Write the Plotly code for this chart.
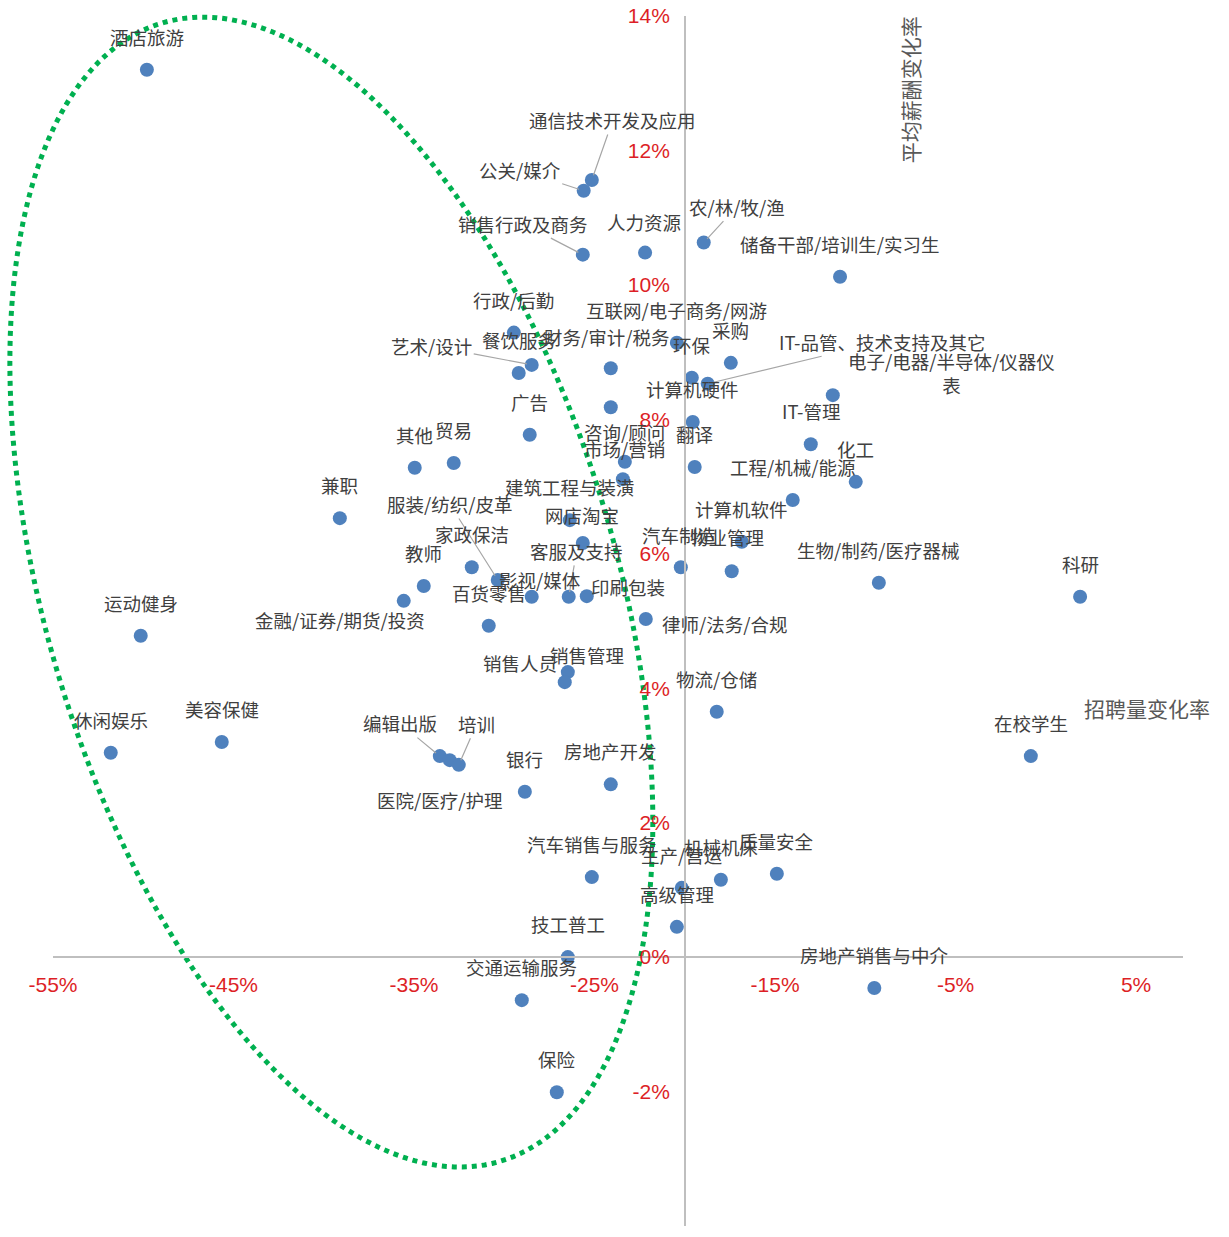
import numpy as np
import plotly.graph_objects as go

# ---------------- data (percent units) ----------------
job_names = [
    "酒店旅游", "通信技术开发及应用", "公关/媒介", "销售行政及商务", "人力资源",
    "农/林/牧/渔", "储备干部/培训生/实习生", "行政/后勤", "艺术/设计", "餐饮服务",
    "财务/审计/税务", "互联网/电子商务/网游", "环保", "采购", "IT-品管、技术支持及其它",
    "电子/电器/半导体/仪器仪表", "计算机硬件", "IT-管理", "广告", "咨询/顾问",
    "市场/营销", "翻译", "化工", "其他", "贸易",
    "兼职", "建筑工程与装潢", "工程/机械/能源", "服装/纺织/皮革", "网店淘宝",
    "计算机软件", "家政保洁", "教师", "客服及支持", "汽车制造",
    "物业管理", "生物/制药/医疗器械", "科研", "影视/媒体", "印刷包装",
    "百货零售", "金融/证券/期货/投资", "运动健身", "律师/法务/合规", "销售管理",
    "销售人员", "物流/仓储", "休闲娱乐", "美容保健", "编辑出版",
    "医院/医疗/护理", "培训", "在校学生", "银行", "房地产开发",
    "汽车销售与服务", "生产/营运", "机械机床", "质量安全", "高级管理",
    "技工普工", "交通运输服务", "房地产销售与中介", "保险", "",
]

recruit_change = [  # 招聘量变化率 (%)
    -49.8, -25.15, -25.6, -25.65, -22.2,
    -18.95, -11.4, -29.47, -28.48, -29.2,
    -24.1, -20.44, -19.61, -17.45, -18.73,
    -11.8, -19.56, -13.02, -28.59, -23.32,
    -23.43, -19.45, -10.53, -34.96, -32.8,
    -39.11, -26.37, -14.02, -30.36, -25.65,
    -16.84, -31.8, -34.46, -26.43, -20.22,
    -17.4, -9.25, 1.9, -28.48, -25.43,
    -30.86, -35.57, -50.14, -22.16, -26.48,
    -26.65, -18.23, -51.8, -45.65, -33.57,
    -33.02, -32.52, -0.83, -28.86, -24.1,
    -25.15, -20.17, -18.0, -14.9, -20.44,
    -26.48, -29.03, -9.5, -27.09, -24.1,
]

salary_change = [  # 平均薪酬变化率 (%)
    13.2, 11.56, 11.4, 10.45, 10.48,
    10.63, 10.12, 9.29, 8.81, 8.69,
    8.76, 9.14, 8.62, 8.84, 8.53,
    8.36, 7.96, 7.63, 7.77, 7.37,
    7.11, 7.29, 7.07, 7.28, 7.35,
    6.53, 6.5, 6.8, 5.61, 6.16,
    6.18, 5.8, 5.52, 5.36, 5.8,
    5.74, 5.57, 5.36, 5.36, 5.37,
    4.93, 5.3, 4.78, 5.03, 4.24,
    4.09, 3.65, 3.04, 3.2, 2.99,
    2.93, 2.86, 2.99, 2.46, 2.57,
    1.19, 1.03, 1.15, 1.24, 0.45,
    0.0, -0.64, -0.46, -2.01, 8.18,
]

x_tick_values = [-55, -45, -35, -25, -15, -5, 5]
x_tick_labels = ["-55%", "-45%", "-35%", "-25%", "-15%", "-5%", "5%"]
y_tick_values = [-4, -2, 0, 2, 4, 6, 8, 10, 12, 14]
y_tick_labels = ["-4%", "-2%", "0%", "2%", "4%", "6%", "8%", "10%", "12%", "14%"]

x_title = "招聘量变化率"
y_title = "平均薪酬变化率"

# ---------------- styling ----------------
X_RANGE = [-55, 7.6]
Y_RANGE = [-4, 14]
Y_AXIS_CROSS_X = -20      # vertical axis crosses at x = -20%
X_AXIS_CROSS_Y = 0

BLUE = "#4F81BD"
RED = "#DD1F26"
AXIS_GREY = "#BFBFBF"
LABEL_COLOR = "#404040"
LEADER = "#A6A6A6"
CJK = "Noto Sans CJK SC"

DEFAULT_LABEL_OFFSET = (0, -33)   # pixels (dx, dy screen-down)
label_offsets = {
    "人力资源": (-1, -31),
    "财务/审计/税务": (-4, -31),
    "电子/电器/半导体/仪器仪表": (119, -22),
    "咨询/顾问": (0, -30),
    "市场/营销": (2, -30),
    "网店淘宝": (-1, -28),
    "汽车制造": (-2, -32),
    "物业管理": (-5, -34),
    "影视/媒体": (8, -17),
    "印刷包装": (41, -9),
    "金融/证券/期货/投资": (-64, 19),
    "律师/法务/合规": (79, 5),
    "销售人员": (-45, -19),
}
leader_offsets = {
    "通信技术开发及应用": (21, -60),
    "公关/媒介": (-64, -21),
    "销售行政及商务": (-60, -31),
    "农/林/牧/渔": (33, -36),
    "艺术/设计": (-100, -19),
    "IT-品管、技术支持及其它": (174, -42),
    "服装/纺织/皮革": (-48, -76),
    "客服及支持": (8, -46),
    "销售管理": (19, -17),
    "编辑出版": (-40, -33),
    "医院/医疗/护理": (-10, 40),
    "培训": (18, -41),
}
label_text_override = {"电子/电器/半导体/仪器仪表": "电子/电器/半导体/仪器仪<br>表"}

fig = go.Figure()
fig.add_trace(go.Scatter(
    x=recruit_change, y=salary_change, mode="markers",
    text=job_names, hoverinfo="text",
    marker=dict(size=14, color=BLUE, line=dict(width=0)),
    cliponaxis=False, showlegend=False,
))

annotations = []
for name, xv, yv in zip(job_names, recruit_change, salary_change):
    if not name:
        continue
    txt = label_text_override.get(name, name)
    if name in leader_offsets:
        dx, dy = leader_offsets[name]
        annotations.append(dict(
            x=xv, y=yv, xref="x", yref="y", text=txt,
            showarrow=True, arrowhead=0, arrowwidth=1.2, arrowcolor=LEADER,
            ax=dx, ay=dy, standoff=5,
            font=dict(family=CJK, size=18.5, color=LABEL_COLOR),
        ))
    else:
        dx, dy = label_offsets.get(name, DEFAULT_LABEL_OFFSET)
        annotations.append(dict(
            x=xv, y=yv, xref="x", yref="y", text=txt, showarrow=False,
            xshift=dx, yshift=-dy, xanchor="center", yanchor="middle",
            font=dict(family=CJK, size=18.5, color=LABEL_COLOR),
        ))

# axis titles
annotations.append(dict(
    x=0.758, y=0.939, xref="paper", yref="paper", text=y_title, showarrow=False,
    xanchor="center", yanchor="middle",
    textangle=-90, font=dict(family=CJK, size=21, color="#595959"),
))
annotations.append(dict(
    x=0.968, y=0.428, xref="paper", yref="paper", text=x_title, showarrow=False,
    xanchor="center", yanchor="middle",
    font=dict(family=CJK, size=21, color="#595959"),
))

# green dotted ellipse (tilted), described in data units, drawn in paper units
ell_cx, ell_cy = -39.58, 5.43
ell_ax = 17.81                  # x half-extent
ell_bx, ell_by = 3.42, 7.84     # y coupling terms
t = np.linspace(0, 2 * np.pi, 241)
ex = ell_cx + ell_ax * np.cos(t)
ey = ell_cy - ell_bx * np.cos(t) - ell_by * np.sin(t)
px_ = (ex - X_RANGE[0]) / (X_RANGE[1] - X_RANGE[0])
py_ = (ey - Y_RANGE[0]) / (Y_RANGE[1] - Y_RANGE[0])
path = "M " + " L ".join(f"{a:.5f},{b:.5f}" for a, b in zip(px_, py_)) + " Z"

fig.update_layout(
    width=1229, height=1237,
    margin=dict(l=53, r=46, t=16, b=11, autoexpand=False),
    paper_bgcolor="white", plot_bgcolor="white",
    annotations=annotations,
    shapes=[dict(type="path", path=path, xref="paper", yref="paper",
                 line=dict(color="#00B050", width=5, dash="dot"),
                 fillcolor="rgba(0,0,0,0)", layer="below")],
    xaxis=dict(
        range=X_RANGE, showgrid=False, zeroline=False, automargin=False,
        showline=True, linecolor=AXIS_GREY, linewidth=1.5,
        anchor="free",
        position=(X_AXIS_CROSS_Y - Y_RANGE[0]) / (Y_RANGE[1] - Y_RANGE[0]),
        tickmode="array", tickvals=x_tick_values, ticktext=x_tick_labels,
        ticks="", ticklabelstandoff=9,
        tickfont=dict(family="Liberation Sans", size=21, color=RED),
    ),
    yaxis=dict(
        range=Y_RANGE, showgrid=False, zeroline=False, automargin=False,
        showline=True, linecolor=AXIS_GREY, linewidth=1.5,
        anchor="free",
        position=(Y_AXIS_CROSS_X - X_RANGE[0]) / (X_RANGE[1] - X_RANGE[0]),
        tickmode="array", tickvals=y_tick_values, ticktext=y_tick_labels,
        ticks="", ticklabelstandoff=10,
        tickfont=dict(family="Liberation Sans", size=21, color=RED),
    ),
)

fig.write_html("out.html")
